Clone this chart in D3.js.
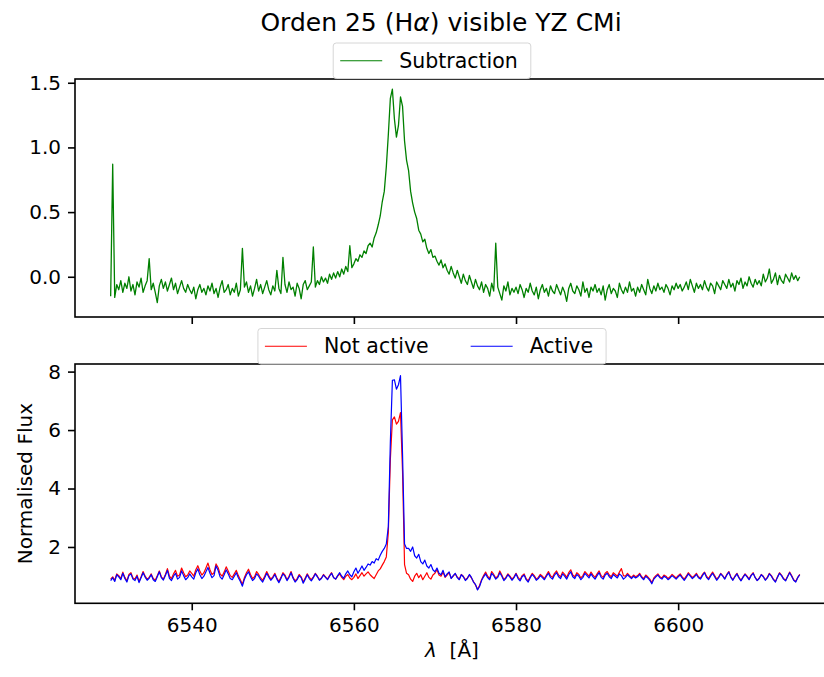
<!DOCTYPE html>
<html>
<head>
<meta charset="utf-8">
<style>
  body { margin: 0; background: #fff; }
  svg { display: block; font-family: "DejaVu Sans", sans-serif; }
</style>
</head>
<body>
<svg width="824" height="677"></svg>
<script src="https://d3js.org/d3.v7.min.js"></script>
<script>

// wavelength grid (Angstrom)
const lamStart = 6530, lamStep = 0.25

// top panel: active - not active
const subtraction = [
  -0.15, 0.87, -0.16, -0.06, -0.10, -0.03, -0.12, -0.05, -0.09, 0.00, -0.11, -0.06, -0.14, -0.04, -0.08, -0.01, -0.12, -0.07, -0.03, 0.14,
  -0.10, -0.05, -0.12, -0.20, -0.07, -0.02, -0.09, -0.04, -0.11, -0.06, -0.01, -0.10, -0.05, -0.13, -0.08, -0.03, -0.09, -0.12, -0.06, -0.10,
  -0.13, -0.08, -0.17, -0.10, -0.06, -0.12, -0.09, -0.14, -0.07, -0.11, -0.05, -0.13, -0.09, -0.16, -0.08, -0.03, -0.12, -0.10, -0.06, -0.14,
  -0.09, -0.12, -0.05, -0.15, -0.10, 0.22, -0.08, -0.04, -0.12, -0.07, -0.15, -0.09, -0.02, -0.11, -0.06, -0.13, -0.08, -0.03, -0.10, -0.14,
  -0.07, -0.11, 0.05, -0.09, -0.13, 0.15, -0.06, -0.12, -0.04, -0.10, -0.08, -0.15, -0.05, -0.09, -0.17, -0.06, -0.03, -0.10, -0.07, -0.04,
  0.23, -0.08, -0.03, -0.06, 0.00, -0.04, -0.01, -0.05, 0.02, -0.02, 0.03, -0.01, 0.04, 0.00, 0.06, 0.02, 0.08, 0.04, 0.24, 0.07,
  0.10, 0.14, 0.12, 0.17, 0.15, 0.20, 0.18, 0.24, 0.26, 0.23, 0.30, 0.34, 0.40, 0.47, 0.58, 0.66, 0.85, 1.10, 1.38, 1.45,
  1.22, 1.08, 1.17, 1.39, 1.32, 1.05, 0.90, 0.82, 0.66, 0.57, 0.50, 0.45, 0.36, 0.33, 0.27, 0.29, 0.22, 0.18, 0.21, 0.15,
  0.16, 0.12, 0.09, 0.13, 0.07, 0.10, 0.05, 0.02, 0.08, 0.03, -0.01, 0.05, 0.00, -0.05, 0.02, -0.03, -0.06, 0.01, -0.04, -0.09,
  -0.02, -0.07, -0.10, -0.04, -0.12, -0.06, -0.09, -0.15, -0.05, -0.11, 0.26, -0.08, -0.13, -0.18, -0.07, -0.11, -0.04, -0.14, -0.09, -0.12,
  -0.08, -0.13, -0.06, -0.10, -0.16, -0.09, -0.12, -0.05, -0.11, -0.14, -0.08, -0.17, -0.10, -0.06, -0.12, -0.09, -0.15, -0.07, -0.11, -0.13,
  -0.06, -0.10, -0.14, -0.08, -0.12, -0.19, -0.09, -0.05, -0.11, -0.13, -0.07, -0.10, -0.15, -0.04, -0.12, -0.09, -0.16, -0.08, -0.11, -0.06,
  -0.12, -0.09, -0.14, -0.07, -0.18, -0.10, -0.06, -0.13, -0.09, -0.11, -0.16, -0.05, -0.10, -0.13, -0.08, -0.12, -0.04, -0.11, -0.09, -0.15,
  -0.08, -0.12, -0.06, -0.10, -0.14, -0.02, -0.09, -0.13, -0.07, -0.11, -0.05, -0.10, -0.08, -0.12, -0.06, -0.09, -0.14, -0.07, -0.10, -0.05,
  -0.09, -0.06, -0.11, -0.08, -0.04, -0.10, -0.02, -0.07, -0.12, -0.05, -0.09, -0.06, -0.10, -0.03, -0.08, -0.11, -0.05, -0.07, -0.13, -0.04,
  -0.07, -0.10, -0.03, -0.06, -0.09, -0.02, -0.08, -0.05, -0.11, -0.03, -0.06, -0.01, -0.09, -0.04, -0.07, 0.00, -0.05, -0.08, -0.02, -0.06,
  -0.03, -0.07, 0.02, -0.04, -0.01, 0.06, -0.05, -0.02, 0.03, -0.06, 0.01, -0.03, -0.05, 0.02, -0.01, -0.04, 0.03, -0.02, 0.01, -0.03, 0.00
]

// bottom panel: normalised flux
const notActive = [
  0.90, 0.98, 0.86, 1.08, 1.02, 0.92, 1.14, 0.96, 0.84, 1.06, 1.12, 0.94, 0.90, 1.04, 0.82, 0.98, 1.16, 1.00, 0.90, 0.96,
  1.08, 0.92, 0.86, 1.02, 1.18, 0.98, 0.90, 1.06, 1.26, 1.00, 0.92, 1.08, 1.20, 1.00, 1.04, 1.28, 1.12, 0.98, 1.04, 1.18,
  1.10, 1.00, 1.22, 1.36, 1.18, 1.04, 1.12, 1.28, 1.45, 1.22, 1.06, 1.12, 1.42, 1.30, 1.08, 1.00, 1.14, 1.32, 1.18, 1.02,
  0.96, 1.08, 1.20, 1.02, 0.88, 0.72, 0.96, 1.12, 1.24, 1.06, 0.92, 0.98, 1.16, 1.06, 0.94, 0.86, 1.00, 1.16, 1.02, 0.90,
  0.98, 1.10, 0.94, 0.82, 0.96, 1.12, 1.04, 0.88, 1.00, 1.16, 0.96, 0.84, 0.92, 1.06, 0.98, 0.80, 0.94, 1.08, 0.96, 0.88,
  0.98, 1.10, 1.00, 0.88, 0.94, 1.06, 0.98, 0.90, 1.02, 1.12, 0.96, 0.90, 1.00, 1.08, 0.96, 0.88, 1.00, 1.06, 0.94, 0.88,
  0.96, 1.08, 0.92, 1.02, 1.12, 1.00, 1.08, 1.15, 1.05, 0.98, 0.92, 1.05, 1.18, 1.25, 1.38, 1.50, 1.66, 2.50, 5.00, 6.35,
  6.45, 6.20, 6.30, 6.60, 4.60, 1.40, 1.10, 1.05, 0.90, 0.82, 1.00, 1.10, 0.95, 1.05, 0.88, 1.00, 1.12, 0.96, 0.90, 1.04,
  1.10, 1.22, 1.04, 1.00, 1.14, 0.96, 1.04, 1.12, 0.94, 1.00, 1.08, 0.98, 0.90, 1.06, 1.00, 0.88, 0.94, 1.04, 0.94, 0.82,
  0.70, 0.55, 0.68, 0.88, 1.02, 1.14, 1.00, 0.92, 1.16, 1.06, 0.94, 1.00, 1.18, 1.04, 0.88, 0.96, 1.08, 1.00, 0.90, 0.98,
  1.10, 0.96, 0.88, 1.02, 1.08, 0.92, 0.84, 0.98, 1.10, 1.02, 0.90, 0.96, 1.06, 1.00, 0.92, 1.04, 1.16, 1.02, 0.96, 1.10,
  1.18, 1.04, 0.98, 1.14, 1.06, 0.96, 1.12, 1.22, 1.04, 0.98, 1.12, 1.06, 0.94, 1.02, 1.16, 1.08, 1.00, 1.14, 1.04, 0.96,
  1.08, 1.18, 1.02, 0.96, 1.10, 1.16, 1.04, 0.98, 1.12, 1.06, 1.00, 1.14, 1.26, 1.02, 1.00, 1.10, 1.02, 0.96, 1.04, 0.98,
  1.02, 1.10, 0.98, 0.92, 1.04, 0.98, 0.90, 0.78, 0.94, 1.02, 1.08, 0.98, 0.94, 1.04, 1.00, 0.92, 0.98, 1.06, 1.00, 0.94,
  1.02, 1.08, 0.98, 0.90, 1.00, 1.12, 1.04, 0.96, 1.02, 1.10, 0.98, 0.94, 1.06, 1.14, 1.00, 0.92, 1.04, 1.14, 1.02, 0.90,
  0.98, 1.10, 1.02, 0.92, 1.06, 1.16, 0.98, 0.88, 1.00, 1.10, 0.96, 0.86, 0.98, 1.08, 1.00, 0.90, 1.04, 1.12, 0.96, 0.86,
  0.94, 1.06, 1.00, 0.88, 0.96, 1.10, 1.02, 0.90, 0.82, 0.98, 1.12, 1.04, 0.92, 0.86, 1.00, 1.14, 1.02, 0.88, 0.82, 0.96, 1.06
]

const active = [
  0.85, 0.95, 0.82, 1.05, 0.98, 0.88, 1.10, 0.92, 0.80, 1.02, 1.08, 0.90, 0.85, 1.00, 0.78, 0.95, 1.12, 0.97, 0.86, 0.93,
  1.05, 0.88, 0.82, 0.98, 1.15, 0.95, 0.87, 1.02, 1.20, 0.93, 0.85, 1.00, 1.10, 0.90, 0.96, 1.18, 1.02, 0.88, 0.95, 1.08,
  0.98, 0.90, 1.12, 1.25, 1.05, 0.92, 1.00, 1.15, 1.30, 1.10, 0.95, 1.02, 1.35, 1.20, 0.98, 0.90, 1.05, 1.22, 1.08, 0.92,
  0.88, 1.00, 1.12, 0.95, 0.82, 0.66, 0.90, 1.05, 1.15, 0.98, 0.85, 0.92, 1.08, 1.00, 0.88, 0.80, 0.95, 1.10, 0.97, 0.86,
  0.94, 1.06, 0.90, 0.78, 0.92, 1.08, 1.00, 0.85, 0.96, 1.12, 0.93, 0.80, 0.88, 1.02, 0.95, 0.76, 0.90, 1.05, 0.92, 0.84,
  0.95, 1.08, 0.98, 0.86, 0.92, 1.04, 0.96, 0.88, 1.00, 1.10, 0.95, 0.90, 1.02, 1.12, 1.00, 0.93, 1.08, 1.18, 1.05, 0.98,
  1.15, 1.28, 1.10, 1.22, 1.35, 1.20, 1.30, 1.42, 1.38, 1.50, 1.45, 1.60, 1.55, 1.72, 1.85, 1.95, 2.10, 2.70, 5.60, 7.70,
  7.72, 7.40, 7.55, 7.86, 5.20, 2.10, 1.95, 1.95, 1.85, 2.00, 1.70, 1.62, 1.75, 1.50, 1.42, 1.55, 1.35, 1.28, 1.40, 1.22,
  1.15, 1.28, 1.10, 1.05, 1.20, 0.98, 1.08, 1.15, 0.92, 1.02, 1.10, 0.95, 0.88, 1.05, 0.98, 0.85, 0.92, 1.06, 0.96, 0.80,
  0.72, 0.53, 0.65, 0.85, 0.98, 1.08, 0.95, 0.88, 1.10, 1.02, 0.90, 0.96, 1.12, 1.00, 0.85, 0.93, 1.05, 0.97, 0.86, 0.95,
  1.08, 0.92, 0.84, 0.98, 1.04, 0.88, 0.80, 0.95, 1.06, 0.98, 0.86, 0.92, 1.02, 0.95, 0.88, 1.00, 1.10, 0.96, 0.90, 1.04,
  1.12, 0.98, 0.92, 1.08, 1.00, 0.90, 1.05, 1.15, 0.98, 0.92, 1.06, 1.00, 0.88, 0.96, 1.10, 1.02, 0.94, 1.08, 0.98, 0.90,
  1.02, 1.12, 0.96, 0.90, 1.04, 1.10, 0.98, 0.92, 1.06, 1.00, 0.94, 1.08, 1.02, 0.90, 0.96, 1.05, 0.98, 0.92, 1.00, 0.94,
  0.98, 1.06, 0.95, 0.88, 1.00, 0.94, 0.86, 0.74, 0.90, 0.98, 1.04, 0.95, 0.90, 1.00, 0.96, 0.88, 0.94, 1.02, 0.96, 0.90,
  0.98, 1.04, 0.94, 0.86, 0.96, 1.08, 1.00, 0.92, 0.98, 1.06, 0.95, 0.90, 1.02, 1.12, 0.96, 0.88, 1.00, 1.10, 0.98, 0.86,
  0.95, 1.08, 1.00, 0.90, 1.04, 1.14, 0.96, 0.86, 0.98, 1.08, 0.94, 0.84, 0.96, 1.06, 0.98, 0.88, 1.02, 1.10, 0.95, 0.85,
  0.92, 1.05, 0.98, 0.86, 0.94, 1.08, 1.00, 0.88, 0.80, 0.96, 1.10, 1.02, 0.90, 0.84, 0.98, 1.12, 1.00, 0.86, 0.80, 0.95, 1.05
]

const xTicks = [6540, 6560, 6580, 6600]
const topTicks = [0.0, 0.5, 1.0, 1.5]
const bottomTicks = [2, 4, 6, 8]

let svg = d3.select("svg")
let fontSize = 20

// axes boxes (the right edge runs past the picture, as in the original)
let left = 75, right = 833
let top1 = 79, bot1 = 317
let top2 = 364, bot2 = 603.3

let x = d3.scaleLinear().domain([6525.6, 6619.1]).range([left, right])
let y1 = d3.scaleLinear().domain([-0.311, 1.529]).range([bot1, top1])
let y2 = d3.scaleLinear().domain([0.073, 8.26]).range([bot2, top2])

let lam = subtraction.map((d, i) => lamStart + i * lamStep)

function drawLine(yScale, values, color, width) {
    let line = d3.line()
        .x((d, i) => x(lam[i]))
        .y(d => yScale(d))
    svg.append("path")
        .datum(values)
        .attr("d", line)
        .attr("fill", "none")
        .attr("stroke", color)
        .attr("stroke-width", width)
        .attr("stroke-linejoin", "round")
}

function styleAxis(g) {
    g.select(".domain").remove()
    g.selectAll(".tick line").attr("stroke", "#000").attr("stroke-width", 1.6)
    g.selectAll(".tick text").attr("fill", "#000").style("font-size", fontSize + "px")
        .style("font-family", "DejaVu Sans")
}

// top panel
drawLine(y1, subtraction, "green", 1.3)

svg.append("g")
    .attr("transform", "translate(" + left + ",0)")
    .call(d3.axisLeft(y1).tickValues(topTicks).tickFormat(d3.format(".1f")).tickSize(7).tickPadding(7))
    .call(styleAxis)

svg.append("g")
    .attr("transform", "translate(0," + bot1 + ")")
    .call(d3.axisBottom(x).tickValues(xTicks).tickFormat("").tickSize(7))
    .call(styleAxis)

svg.append("rect")
    .attr("x", left).attr("y", top1)
    .attr("width", right - left).attr("height", bot1 - top1)
    .attr("fill", "none").attr("stroke", "#000").attr("stroke-width", 1.6)

// bottom panel
drawLine(y2, notActive, "red", 1.2)
drawLine(y2, active, "blue", 1.2)

svg.append("g")
    .attr("transform", "translate(" + left + ",0)")
    .call(d3.axisLeft(y2).tickValues(bottomTicks).tickFormat(d3.format("d")).tickSize(7).tickPadding(7))
    .call(styleAxis)

svg.append("g")
    .attr("transform", "translate(0," + bot2 + ")")
    .call(d3.axisBottom(x).tickValues(xTicks).tickFormat(d3.format("d")).tickSize(7).tickPadding(8))
    .call(styleAxis)

svg.append("rect")
    .attr("x", left).attr("y", top2)
    .attr("width", right - left).attr("height", bot2 - top2)
    .attr("fill", "none").attr("stroke", "#000").attr("stroke-width", 1.6)

// labels
let title = svg.append("text")
    .attr("x", 441).attr("y", 31)
    .attr("text-anchor", "middle")
    .style("font-size", "25px")
    .attr("fill", "#000")
title.append("tspan").text("Orden 25 (H")
title.append("tspan").text("α").style("font-style", "italic")
title.append("tspan").text(") visible YZ CMi")

svg.append("text")
    .attr("transform", "translate(32," + ((top2 + bot2) / 2) + ") rotate(-90)")
    .attr("text-anchor", "middle")
    .style("font-size", fontSize + "px")
    .attr("fill", "#000")
    .text("Normalised Flux")

let xl = svg.append("text")
    .attr("x", 452).attr("y", 657)
    .attr("text-anchor", "middle")
    .style("font-size", fontSize + "px")
    .attr("fill", "#000")
xl.append("tspan").text("λ").style("font-style", "italic")
xl.append("tspan").text("\u00a0\u00a0[Å]")

// legends, matplotlib style (sits on top of the axes)
function legend(items, cx, bottomY) {
    let g = svg.append("g")
    let box = g.append("rect")
    let pad = 7, handle = 42, gap = 17, colGap = 42, h = 35.5
    let pos = 0
    let parts = items.map(it => {
        let t = g.append("text")
            .style("font-size", "20.5px")
            .attr("fill", "#000")
            .text(it.label)
        let w = t.node().getComputedTextLength()
        let p = { it: it, t: t, x0: pos }
        pos += handle + gap + w + colGap
        return p
    })
    let inner = pos - colGap
    let x0 = cx - inner / 2 - pad - 3
    let yMid = bottomY - h / 2
    box.attr("x", x0).attr("y", bottomY - h)
        .attr("width", inner + 2 * pad + 6).attr("height", h)
        .attr("rx", 3)
        .attr("fill", "#fff").attr("fill-opacity", 0.8)
        .attr("stroke", "#d6d6d6").attr("stroke-width", 1)
    parts.forEach(p => {
        let sx = x0 + pad + p.x0
        g.append("line")
            .attr("x1", sx).attr("x2", sx + handle)
            .attr("y1", yMid).attr("y2", yMid)
            .attr("stroke", p.it.color).attr("stroke-width", 1)
        p.t.attr("x", sx + handle + gap).attr("y", yMid + 7)
    })
}

legend([{ label: "Subtraction", color: "green" }], 432, top1 - 0.5)
legend([{ label: "Not active", color: "red" }, { label: "Active", color: "blue" }], 432, top2)

</script>
</body>
</html>
